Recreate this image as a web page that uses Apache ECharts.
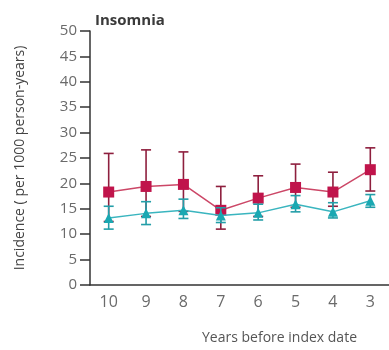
<!DOCTYPE html>
<html>
<head>
<meta charset="utf-8">
<script src="https://cdn.jsdelivr.net/npm/echarts@6/dist/echarts.min.js"></script>
<style>
html,body{margin:0;padding:0;background:#fff;}
#chart{width:389px;height:350px;}
</style>
</head>
<body>
<div id="chart"></div>
<script>
// Data
var categories = ['10', '9', '8', '7', '6', '5', '4', '3'];
var yTicks = [0, 5, 10, 15, 20, 25, 30, 35, 40, 45, 50];

var casesValues = [18.3, 19.4, 19.8, 14.7, 17.1, 19.2, 18.3, 22.7];
var casesUpper  = [25.9, 26.6, 26.2, 19.4, 21.5, 23.8, 22.2, 27.0];
var casesLower  = [12.5, 13.5, 14.5, 11.0, 13.5, 15.3, 15.5, 18.5];

var controlsValues = [13.2, 14.1, 14.7, 13.7, 14.2, 15.9, 14.4, 16.6];
var controlsUpper  = [15.5, 16.4, 16.9, 15.2, 15.9, 17.6, 16.2, 17.8];
var controlsLower  = [11.0, 11.9, 13.1, 12.3, 12.8, 14.4, 13.2, 15.3];

var titleText = 'Insomnia';
var yName = 'Incidence ( per 1000 person-years)';
var xName = 'Years before index date';

function errData(upper, lower) {
  return categories.map(function (c, i) { return [i, upper[i], lower[i]]; });
}

function errRenderer(color) {
  return function (params, api) {
    var x = api.value(0);
    var hi = api.coord([x, api.value(1)]);
    var lo = api.coord([x, api.value(2)]);
    var hw = 5;
    var style = { stroke: color, lineWidth: 1.6 };
    return {
      type: 'group',
      children: [
        { type: 'line', shape: { x1: hi[0], y1: hi[1], x2: lo[0], y2: lo[1] }, style: style },
        { type: 'line', shape: { x1: hi[0] - hw, y1: hi[1], x2: hi[0] + hw, y2: hi[1] }, style: style },
        { type: 'line', shape: { x1: lo[0] - hw, y1: lo[1], x2: lo[0] + hw, y2: lo[1] }, style: style }
      ]
    };
  };
}

var chart = echarts.init(document.getElementById('chart'), null, { renderer: 'canvas' });
var font = 'Open Sans';
chart.setOption({
  animation: false,
  backgroundColor: '#ffffff',
  textStyle: { fontFamily: font },
  title: {
    text: titleText,
    left: 90,
    top: 8,
    textStyle: { fontFamily: font, fontSize: 15, fontWeight: 'bold', color: '#3a3a3a' }
  },
  grid: { left: 90, top: 31, width: 312, bottom: 65 },
  xAxis: {
    type: 'category',
    data: categories,
    boundaryGap: true,
    name: xName,
    nameLocation: 'middle',
    nameGap: 46,
    nameTextStyle: { fontFamily: font, fontSize: 14, color: '#555', padding: [0, 0, 0, 80] },
    axisLine: { lineStyle: { color: '#333', width: 1.5 } },
    axisTick: { length: 10, lineStyle: { color: '#333', width: 1.5 } },
    axisLabel: { margin: 9, fontFamily: font, fontSize: 16, color: '#6a6a6a' },
    splitLine: { show: false }
  },
  yAxis: {
    type: 'value',
    min: yTicks[0],
    max: yTicks[yTicks.length - 1],
    interval: 5,
    name: yName,
    nameLocation: 'middle',
    nameGap: 63,
    nameTextStyle: { fontFamily: font, fontSize: 14, color: '#444' },
    axisLine: { show: true, lineStyle: { color: '#333', width: 1.5 } },
    axisTick: { show: true, length: 10, lineStyle: { color: '#333', width: 1.5 } },
    axisLabel: { margin: 13, fontFamily: font, fontSize: 15, color: '#6a6a6a' },
    splitLine: { show: false }
  },
  series: [
    {
      name: 'Cases error',
      type: 'custom',
      renderItem: errRenderer('#8e1f3e'),
      data: errData(casesUpper, casesLower),
      z: 2
    },
    {
      name: 'Cases',
      type: 'line',
      data: casesValues,
      symbol: 'rect',
      symbolSize: 11,
      itemStyle: { color: '#c0144b' },
      lineStyle: { color: '#cc4767', width: 1.5 },
      z: 3
    },
    {
      name: 'Controls error',
      type: 'custom',
      renderItem: errRenderer('#239ea8'),
      data: errData(controlsUpper, controlsLower),
      z: 4
    },
    {
      name: 'Controls',
      type: 'line',
      data: controlsValues,
      symbol: 'triangle',
      symbolSize: 10,
      itemStyle: { color: '#1aa8b2' },
      lineStyle: { color: '#3ab5bf', width: 1.5 },
      z: 5
    }
  ]
});
</script>
</body>
</html>
